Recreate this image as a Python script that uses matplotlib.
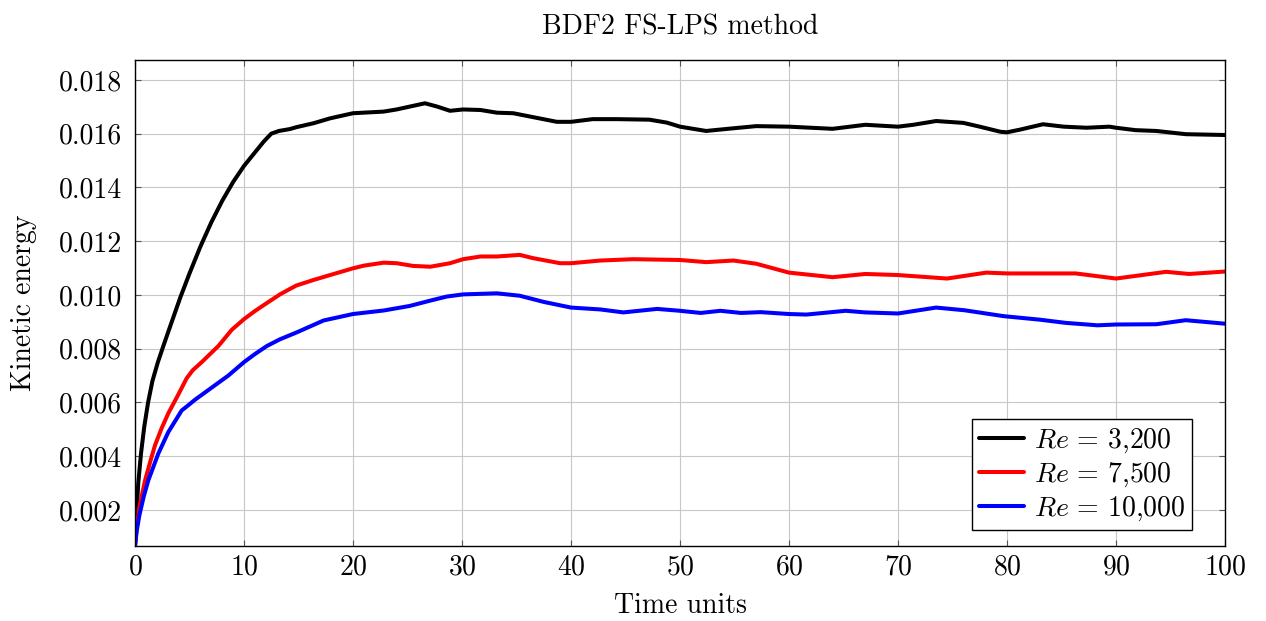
from __future__ import annotations

import matplotlib

matplotlib.use("Agg")
import matplotlib.pyplot as plt  # noqa: E402
from matplotlib.ticker import FormatStrFormatter, MultipleLocator  # noqa: E402

# Kinetic energy vs time
X_RE3200 = [0, 0.1, 0.3, 0.55, 0.85, 1.2, 1.6, 2.1, 2.6, 3.2, 4.15, 5.0, 6.0, 7.0, 8.0, 9.0,
            10, 11, 11.8, 12.5, 13.2, 14.2, 14.8, 16.4, 17.9, 20, 22.8, 24, 26.6, 27.7,
            28.9, 30.1, 31.7, 33.2, 34.7, 36.2, 38.7, 40, 42, 44.2, 47.2, 48.8, 50, 52.4,
            54.9, 57, 60, 64, 67, 70, 71.4, 73.5, 76, 77.5, 79.4, 80, 81.2, 83.3, 85.2,
            87.3, 89.4, 90, 91.8, 93.7, 96.4, 100]
Y_RE3200 = [0.00066, 0.0016, 0.003, 0.0041, 0.0051, 0.0060, 0.0068, 0.0075, 0.0081, 0.0088,
            0.0099, 0.0108, 0.0118, 0.0127, 0.0135, 0.0142, 0.0148, 0.0153, 0.0157, 0.0160,
            0.0161, 0.01617, 0.01624, 0.01639, 0.01657, 0.01676, 0.01682, 0.0169, 0.01713,
            0.01701, 0.01685, 0.0169, 0.01688, 0.01678, 0.01676, 0.01664, 0.01644, 0.01644,
            0.01654, 0.01654, 0.01652, 0.01641, 0.01626, 0.0161, 0.0162, 0.01628, 0.01626,
            0.01618, 0.01633, 0.01626, 0.01633, 0.01647, 0.0164, 0.01626, 0.01607, 0.01605,
            0.01615, 0.01635, 0.01626, 0.01622, 0.01626, 0.01622, 0.01613, 0.0161, 0.01598,
            0.01595]

X_RE7500 = [0, 0.15, 0.4, 0.92, 1.4, 1.83, 2.4, 3.06, 3.98, 4.74, 5.3, 6.12, 7.65, 8.87, 10,
            11, 12.1, 13.3, 14.2, 14.8, 16.4, 17.9, 20, 21, 22.8, 24, 25.5, 27.1, 28.9, 30.1,
            31.7, 33.2, 35.3, 36.5, 39, 40, 42.7, 45.7, 50, 52.4, 54.9, 57, 60, 64, 67, 70,
            74.5, 78.1, 80, 83.7, 86.3, 90, 94.6, 96.7, 100]
Y_RE7500 = [0.00066, 0.0013, 0.0021, 0.0031, 0.0038, 0.0044, 0.0050, 0.0056, 0.0063, 0.0069,
            0.0072, 0.0075, 0.0081, 0.0087, 0.0091, 0.0094, 0.0097, 0.01002, 0.01022,
            0.01035, 0.01056, 0.01074, 0.01099, 0.01109, 0.0112, 0.01118, 0.01108, 0.01105,
            0.01118, 0.01133, 0.01143, 0.01143, 0.01149, 0.01137, 0.01118, 0.01118, 0.01128,
            0.01133, 0.0113, 0.01122, 0.01128, 0.01116, 0.01083, 0.01066, 0.01078, 0.01074,
            0.01061, 0.01083, 0.0108, 0.0108, 0.0108, 0.01061, 0.01086, 0.01078, 0.01087]

X_RE10000 = [0, 0.15, 0.4, 0.8, 1.22, 2.14, 3.06, 4.28, 4.9, 5.5, 7.03, 8.56, 10, 11, 12.1,
             13.3, 14.2, 14.8, 17.3, 20, 22.8, 25.2, 27.1, 28.6, 30.1, 33.2, 35.3, 37.5, 40,
             42.7, 44.8, 47.9, 50, 51.9, 53.7, 55.6, 57.4, 60, 61.6, 65.2, 67, 70, 73.5,
             76.1, 79.7, 83, 85.4, 88.3, 90, 93.7, 96.4, 100]
Y_RE10000 = [0.00066, 0.0012, 0.0018, 0.0025, 0.0031, 0.0041, 0.0049, 0.0057, 0.0059,
             0.0061, 0.00655, 0.0070, 0.0075, 0.0078, 0.0081, 0.00835, 0.0085, 0.0086,
             0.00905, 0.00929, 0.00942, 0.00959, 0.00979, 0.00994, 0.01002, 0.01006, 0.00997,
             0.00974, 0.00953, 0.00946, 0.00935, 0.00948, 0.00941, 0.00933, 0.00941, 0.00933,
             0.00936, 0.00929, 0.00927, 0.00941, 0.00935, 0.00931, 0.00953, 0.00943, 0.00921,
             0.00908, 0.00896, 0.00887, 0.0089, 0.00891, 0.00906, 0.00893]

SERIES = [
    (X_RE3200, Y_RE3200, "black", r"$Re\,=\,3{,}200$"),
    (X_RE7500, Y_RE7500, "red", r"$Re\,=\,7{,}500$"),
    (X_RE10000, Y_RE10000, "blue", r"$Re\,=\,10{,}000$"),
]


def main() -> int:
    plt.rcParams.update(
        {
            "font.family": "serif",
            "font.serif": ["cmr10", "DejaVu Serif"],
            "mathtext.fontset": "cm",
            "axes.formatter.use_mathtext": True,
            "font.size": 20,
        }
    )
    fig = plt.figure(figsize=(12.66, 6.21), dpi=100)
    ax = fig.add_axes([135 / 1266, 1 - 546 / 621, 1090 / 1266, 486 / 621])

    for xs, ys, color, label in SERIES:
        ax.plot(xs, ys, color=color, linewidth=2.9, label=label,
                solid_joinstyle="round", solid_capstyle="round")

    ax.set_xlim(0, 100)
    ax.set_ylim(0.00066, 0.01874)
    ax.xaxis.set_major_locator(MultipleLocator(10))
    ax.yaxis.set_major_locator(MultipleLocator(0.002))
    ax.yaxis.set_major_formatter(FormatStrFormatter("%.3f"))
    ax.tick_params(axis="y", pad=9)
    ax.tick_params(axis="x", pad=6)
    ax.tick_params(direction="in", length=4.5, width=0.8, top=True, right=True,
                   labelsize=20, color="#555555")
    ax.grid(True, color="#c8c8c8", linewidth=0.8)
    ax.set_axisbelow(True)
    for sp in ax.spines.values():
        sp.set_linewidth(1.0)

    ax.set_xlabel("Time units", fontsize=20, labelpad=9)
    ax.set_ylabel("Kinetic energy", fontsize=20, labelpad=16)
    ax.set_title("BDF2 FS-LPS method", fontsize=20, pad=18.5)

    leg = ax.legend(loc="lower right",
                    bbox_to_anchor=((1192 - 135) / 1090, (546 - 530) / 486),
                    borderaxespad=0, fancybox=False, framealpha=1, edgecolor="black",
                    handlelength=1.6, handletextpad=0.35, labelspacing=0.2,
                    borderpad=0.25, fontsize=20)
    leg.get_frame().set_linewidth(1.0)

    fig.savefig("out.png", dpi=100)
    plt.close(fig)
    return 0


if __name__ == "__main__":
    raise SystemExit(main())
